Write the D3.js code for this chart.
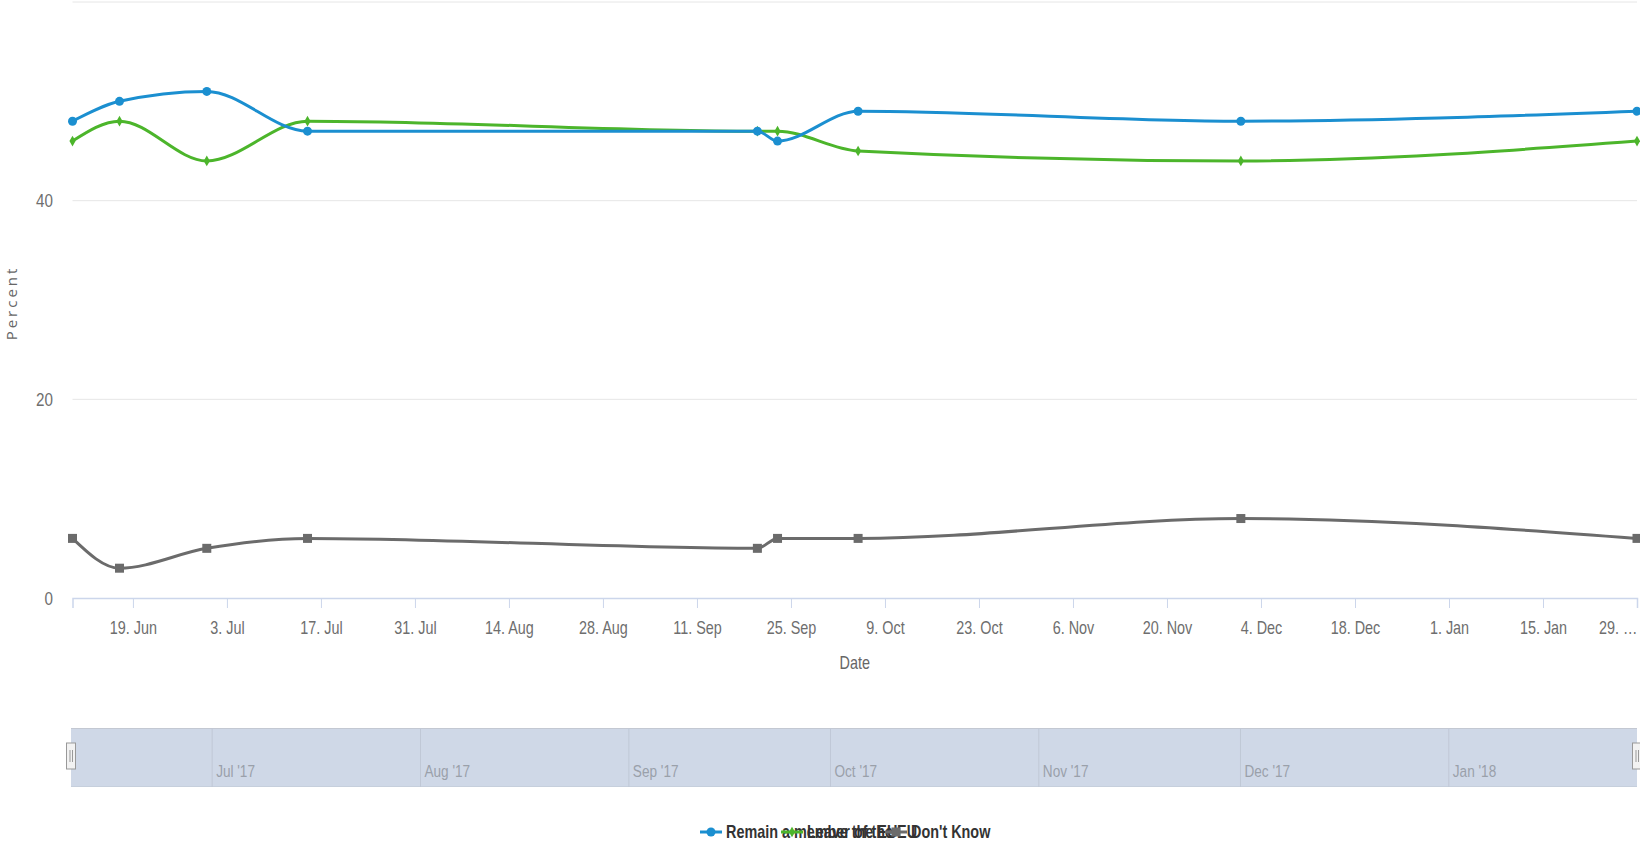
<!DOCTYPE html>
<html>
<head>
<meta charset="utf-8">
<script src="https://cdn.jsdelivr.net/npm/d3@7"></script>
<style>
  html, body { margin: 0; padding: 0; background: #fff; }
  svg { display: block; }
  .cond { font-family: 'Liberation Sans', Arial, sans-serif; }
</style>
</head>
<body>
<svg id="chart" width="1640" height="846"></svg>
<script>
// ---------------- data ----------------
const dates = ["2017-06-10","2017-06-17","2017-06-30","2017-07-15","2017-09-20","2017-09-23","2017-10-05","2017-12-01","2018-01-29"];
const remain = [48, 50, 51, 47, 47, 46, 49, 48, 49];
const leave = [46, 48, 44, 48, 47, 47, 45, 44, 46];
const dontKnow = [6, 3, 5, 6, 5, 6, 6, 8, 6];
const seriesNames = ["Remain a member of the EU", "Leave the EU", "Don't Know"];
const xTickDates = ["2017-06-19","2017-07-03","2017-07-17","2017-07-31","2017-08-14","2017-08-28","2017-09-11","2017-09-25","2017-10-09","2017-10-23","2017-11-06","2017-11-20","2017-12-04","2017-12-18","2018-01-01","2018-01-15","2018-01-29"];
const xTickLabels = ["19. Jun","3. Jul","17. Jul","31. Jul","14. Aug","28. Aug","11. Sep","25. Sep","9. Oct","23. Oct","6. Nov","20. Nov","4. Dec","18. Dec","1. Jan","15. Jan","29. …"];
const yGridValues = [0, 20, 40, 60];
const yTickLabels = ["0", "20", "40"];
const navMonths = ["2017-07-01","2017-08-01","2017-09-01","2017-10-01","2017-11-01","2017-12-01","2018-01-01"];
const navLabels = ["Jul '17","Aug '17","Sep '17","Oct '17","Nov '17","Dec '17","Jan '18"];
const domainStart = "2017-06-10", domainEnd = "2018-01-29";

// ---------------- setup ----------------
const parse = d3.utcParse("%Y-%m-%d");
const svg = d3.select("#chart");
const plot = { left: 72.5, right: 1637, top: 2, bottom: 598 };
const SX = 0.8; // horizontal condensing of the narrow labels

const x = d3.scaleUtc().domain([parse(domainStart), parse(domainEnd)]).range([plot.left, plot.right]);
const y = d3.scaleLinear().domain([0, 60]).range([plot.bottom, plot.top]);

function condText(parent, tx, ty, str, opts) {
  const g = parent.append("g").attr("transform", `translate(${tx},${ty}) scale(${SX},1)`);
  const t = g.append("text").attr("class", "cond")
    .attr("font-size", opts.size).attr("fill", opts.fill)
    .attr("text-anchor", opts.anchor || "start")
    .attr("dy", opts.dy || "0.35em")
    .text(str);
  if (opts.weight) t.attr("font-weight", opts.weight);
  return t;
}

// grid
svg.append("g").selectAll("line").data(yGridValues.filter(v => v > 0)).join("line")
  .attr("x1", plot.left).attr("x2", plot.right)
  .attr("y1", d => y(d)).attr("y2", d => y(d))
  .attr("stroke", "#e6e6e6").attr("stroke-width", 1);

// y labels
const gy = svg.append("g");
yTickLabels.forEach(d => condText(gy, 53, y(+d), d, { size: 19, fill: "#6e6e6e", anchor: "end" }));

// y title
svg.append("text")
  .attr("transform", `translate(17,${(plot.top + plot.bottom) / 2 + 3}) rotate(-90)`)
  .attr("text-anchor", "middle")
  .attr("font-family", "'Open Sans', 'DejaVu Sans', sans-serif")
  .attr("font-size", 15).attr("letter-spacing", 3).attr("fill", "#666")
  .text("Percent");

// x axis
const xAxis = d3.axisBottom(x)
  .tickValues(xTickDates.map(parse))
  .tickFormat((d, i) => xTickLabels[i])
  .tickSize(10).tickPadding(13);
const gx = svg.append("g").attr("transform", `translate(0,${plot.bottom})`).call(xAxis);
gx.attr("font-family", null).attr("font-size", null);
gx.select(".domain").attr("stroke", "#ccd6eb").attr("stroke-width", 1.5);
gx.selectAll(".tick line").attr("stroke", "#ccd6eb");
gx.selectAll(".tick text").attr("class", "cond").attr("font-size", 18).attr("fill", "#6e6e6e")
  .attr("transform", `scale(${SX},1)`)
  .attr("text-anchor", (d, i, n) => i === n.length - 1 ? "end" : "middle");

condText(svg, (plot.left + plot.right) / 2, 663, "Date", { size: 18, fill: "#666", anchor: "middle" });

// series
const series = [
  { name: seriesNames[0], values: remain, color: "#1b8fd0", marker: "circle" },
  { name: seriesNames[1], values: leave, color: "#4cb52b", marker: "diamond" },
  { name: seriesNames[2], values: dontKnow, color: "#6b6b6b", marker: "square" }
];
const line = d3.line().x(d => x(d.date)).y(d => y(d.value)).curve(d3.curveMonotoneX);

function drawMarker(g, type, color, size) {
  if (type === "circle") {
    g.append("circle").attr("r", size).attr("fill", color);
  } else if (type === "square") {
    g.append("rect").attr("x", -size).attr("y", -size).attr("width", size * 2).attr("height", size * 2).attr("fill", color);
  } else {
    g.append("path").attr("d", d3.symbol(d3.symbolDiamond, size * size * 3.2)()).attr("fill", color);
  }
}

series.slice().reverse().forEach(s => {
  const pts = dates.map((d, i) => ({ date: parse(d), value: s.values[i] }));
  svg.append("path").datum(pts)
    .attr("d", line).attr("fill", "none")
    .attr("stroke", s.color).attr("stroke-width", 3).attr("stroke-linejoin", "round");
  const mg = svg.append("g");
  pts.forEach(p => {
    const g = mg.append("g").attr("transform", `translate(${x(p.date)},${y(p.value)})`);
    drawMarker(g, s.marker, s.color, s.marker === "diamond" ? 3.2 : 4.5);
  });
});

// ---------------- navigator ----------------
const nav = { left: 71, right: 1637, top: 728, bottom: 787 };
const xn = d3.scaleUtc().domain(x.domain()).range([nav.left, nav.right]);
svg.append("rect")
  .attr("x", nav.left).attr("y", nav.top)
  .attr("width", nav.right - nav.left).attr("height", nav.bottom - nav.top)
  .attr("fill", "#cfd8e7");
svg.append("line")
  .attr("x1", nav.left).attr("x2", nav.right).attr("y1", nav.top + 0.5).attr("y2", nav.top + 0.5)
  .attr("stroke", "#c3c8d2");
svg.append("line")
  .attr("x1", nav.left).attr("x2", nav.right).attr("y1", nav.bottom - 0.5).attr("y2", nav.bottom - 0.5)
  .attr("stroke", "#c6cfdc");
svg.append("g").selectAll("line").data(navMonths).join("line")
  .attr("x1", d => xn(parse(d))).attr("x2", d => xn(parse(d)))
  .attr("y1", nav.top).attr("y2", nav.bottom)
  .attr("stroke", "#c0c8d6").attr("stroke-width", 1);
const gn = svg.append("g");
navMonths.forEach((d, i) => condText(gn, xn(parse(d)) + 4, 771, navLabels[i], { size: 17, fill: "#9aa0aa" }));

// handles
[nav.left, nav.right].forEach(hx => {
  const g = svg.append("g").attr("transform", `translate(${hx},756)`);
  g.append("rect").attr("x", -4.5).attr("y", -13).attr("width", 9).attr("height", 26)
    .attr("fill", "#f2f2f2").attr("stroke", "#999").attr("stroke-width", 1);
  g.append("line").attr("x1", -1).attr("x2", -1).attr("y1", -6).attr("y2", 6).attr("stroke", "#999");
  g.append("line").attr("x1", 1.5).attr("x2", 1.5).attr("y1", -6).attr("y2", 6).attr("stroke", "#999");
});

// ---------------- legend (overlapping, as in reference) ----------------
const legendX = [700, 781, 885];
const legY = 832;
series.forEach((s, i) => {
  const g = svg.append("g").attr("transform", `translate(${legendX[i]},${legY})`);
  g.append("line").attr("x1", 0).attr("x2", 22).attr("y1", 0).attr("y2", 0)
    .attr("stroke", s.color).attr("stroke-width", 3);
  const mg = g.append("g").attr("transform", "translate(11,0)");
  drawMarker(mg, s.marker, s.color, s.marker === "diamond" ? 3.2 : 4.5);
  condText(g, 26, 0, s.name, { size: 18, fill: "#333", weight: "bold" });
});
</script>
</body>
</html>
